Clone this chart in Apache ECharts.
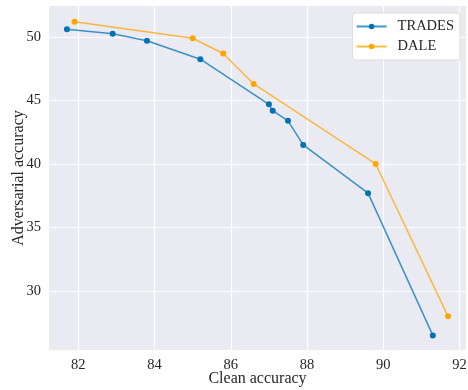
<!DOCTYPE html>
<html>
<head>
<meta charset="utf-8">
<script src="https://cdn.jsdelivr.net/npm/echarts@6/dist/echarts.min.js"></script>
<style>html,body{margin:0;padding:0;background:#fff}#c{width:468px;height:390px}</style>
</head>
<body>
<div id="c"></div>
<script>
const tradesClean = [81.7, 82.9, 83.8, 85.2, 87.0, 87.1, 87.5, 87.9, 89.6, 91.3];
const tradesAdv   = [50.6, 50.25, 49.7, 48.25, 44.7, 44.2, 43.4, 41.5, 37.7, 26.5];
const daleClean = [81.9, 85.0, 85.8, 86.6, 89.8, 91.7];
const daleAdv   = [51.2, 49.9, 48.7, 46.3, 40.0, 28.0];
const xTicks = [82, 84, 86, 88, 90, 92];
const yTicks = [30, 35, 40, 45, 50];
const xRange = [81.23, 92.17];
const yRange = [25.35, 52.44];

const FONT = 'Liberation Serif';
const chart = echarts.init(document.getElementById('c'), null, {renderer: 'canvas'});
const pair = (xs, ys) => xs.map((x, i) => [x, ys[i]]);
function mkSeries(name, xs, ys, color) {
  return {
    name: name, type: 'line', data: pair(xs, ys),
    symbol: 'circle', symbolSize: 6,
    itemStyle: {color: color},
    lineStyle: {color: color, width: 1.5, opacity: 0.75},
    emphasis: {disabled: true},
    animation: false
  };
}
chart.setOption({
  animation: false,
  grid: {left: 49, right: 2, top: 6, bottom: 40, show: true, backgroundColor: '#eaeaf2', borderWidth: 0,
         containLabel: false, outerBoundsMode: 'none'},
  xAxis: {
    type: 'value', min: xRange[0], max: xRange[1],
    name: 'Clean accuracy', nameLocation: 'middle', nameGap: 21, nameMoveOverlap: false,
    nameTextStyle: {fontFamily: FONT, fontSize: 16, color: '#262626'},
    axisLine: {show: false}, axisTick: {show: false, customValues: xTicks},
    axisLabel: {customValues: xTicks, margin: 8, fontFamily: FONT, fontSize: 14.5, color: '#262626'},
    splitLine: {show: true, lineStyle: {color: '#ffffff', width: 1.2}}
  },
  yAxis: {
    type: 'value', min: yRange[0], max: yRange[1],
    name: 'Adversarial accuracy', nameLocation: 'middle', nameGap: 22, nameMoveOverlap: false,
    nameTextStyle: {fontFamily: FONT, fontSize: 16, color: '#262626'},
    axisLine: {show: false}, axisTick: {show: false, customValues: yTicks},
    axisLabel: {customValues: yTicks, margin: 8, fontFamily: FONT, fontSize: 14.5, color: '#262626'},
    splitLine: {show: true, lineStyle: {color: '#ffffff', width: 1.2}}
  },
  legend: {
    orient: 'vertical', right: 8, top: 13,
    padding: [6, 6, 6, 3],
    itemWidth: 30, itemHeight: 7, itemGap: 5,
    backgroundColor: '#ffffff', borderColor: '#dddddd', borderWidth: 1, borderRadius: 3,
    textStyle: {fontFamily: FONT, fontSize: 14.5, color: '#262626', padding: [0, 0, 0, 6]},
    data: ['TRADES', 'DALE']
  },
  series: [
    mkSeries('TRADES', tradesClean, tradesAdv, '#0173b2'),
    mkSeries('DALE', daleClean, daleAdv, '#ffa500')
  ]
});
</script>
</body>
</html>
